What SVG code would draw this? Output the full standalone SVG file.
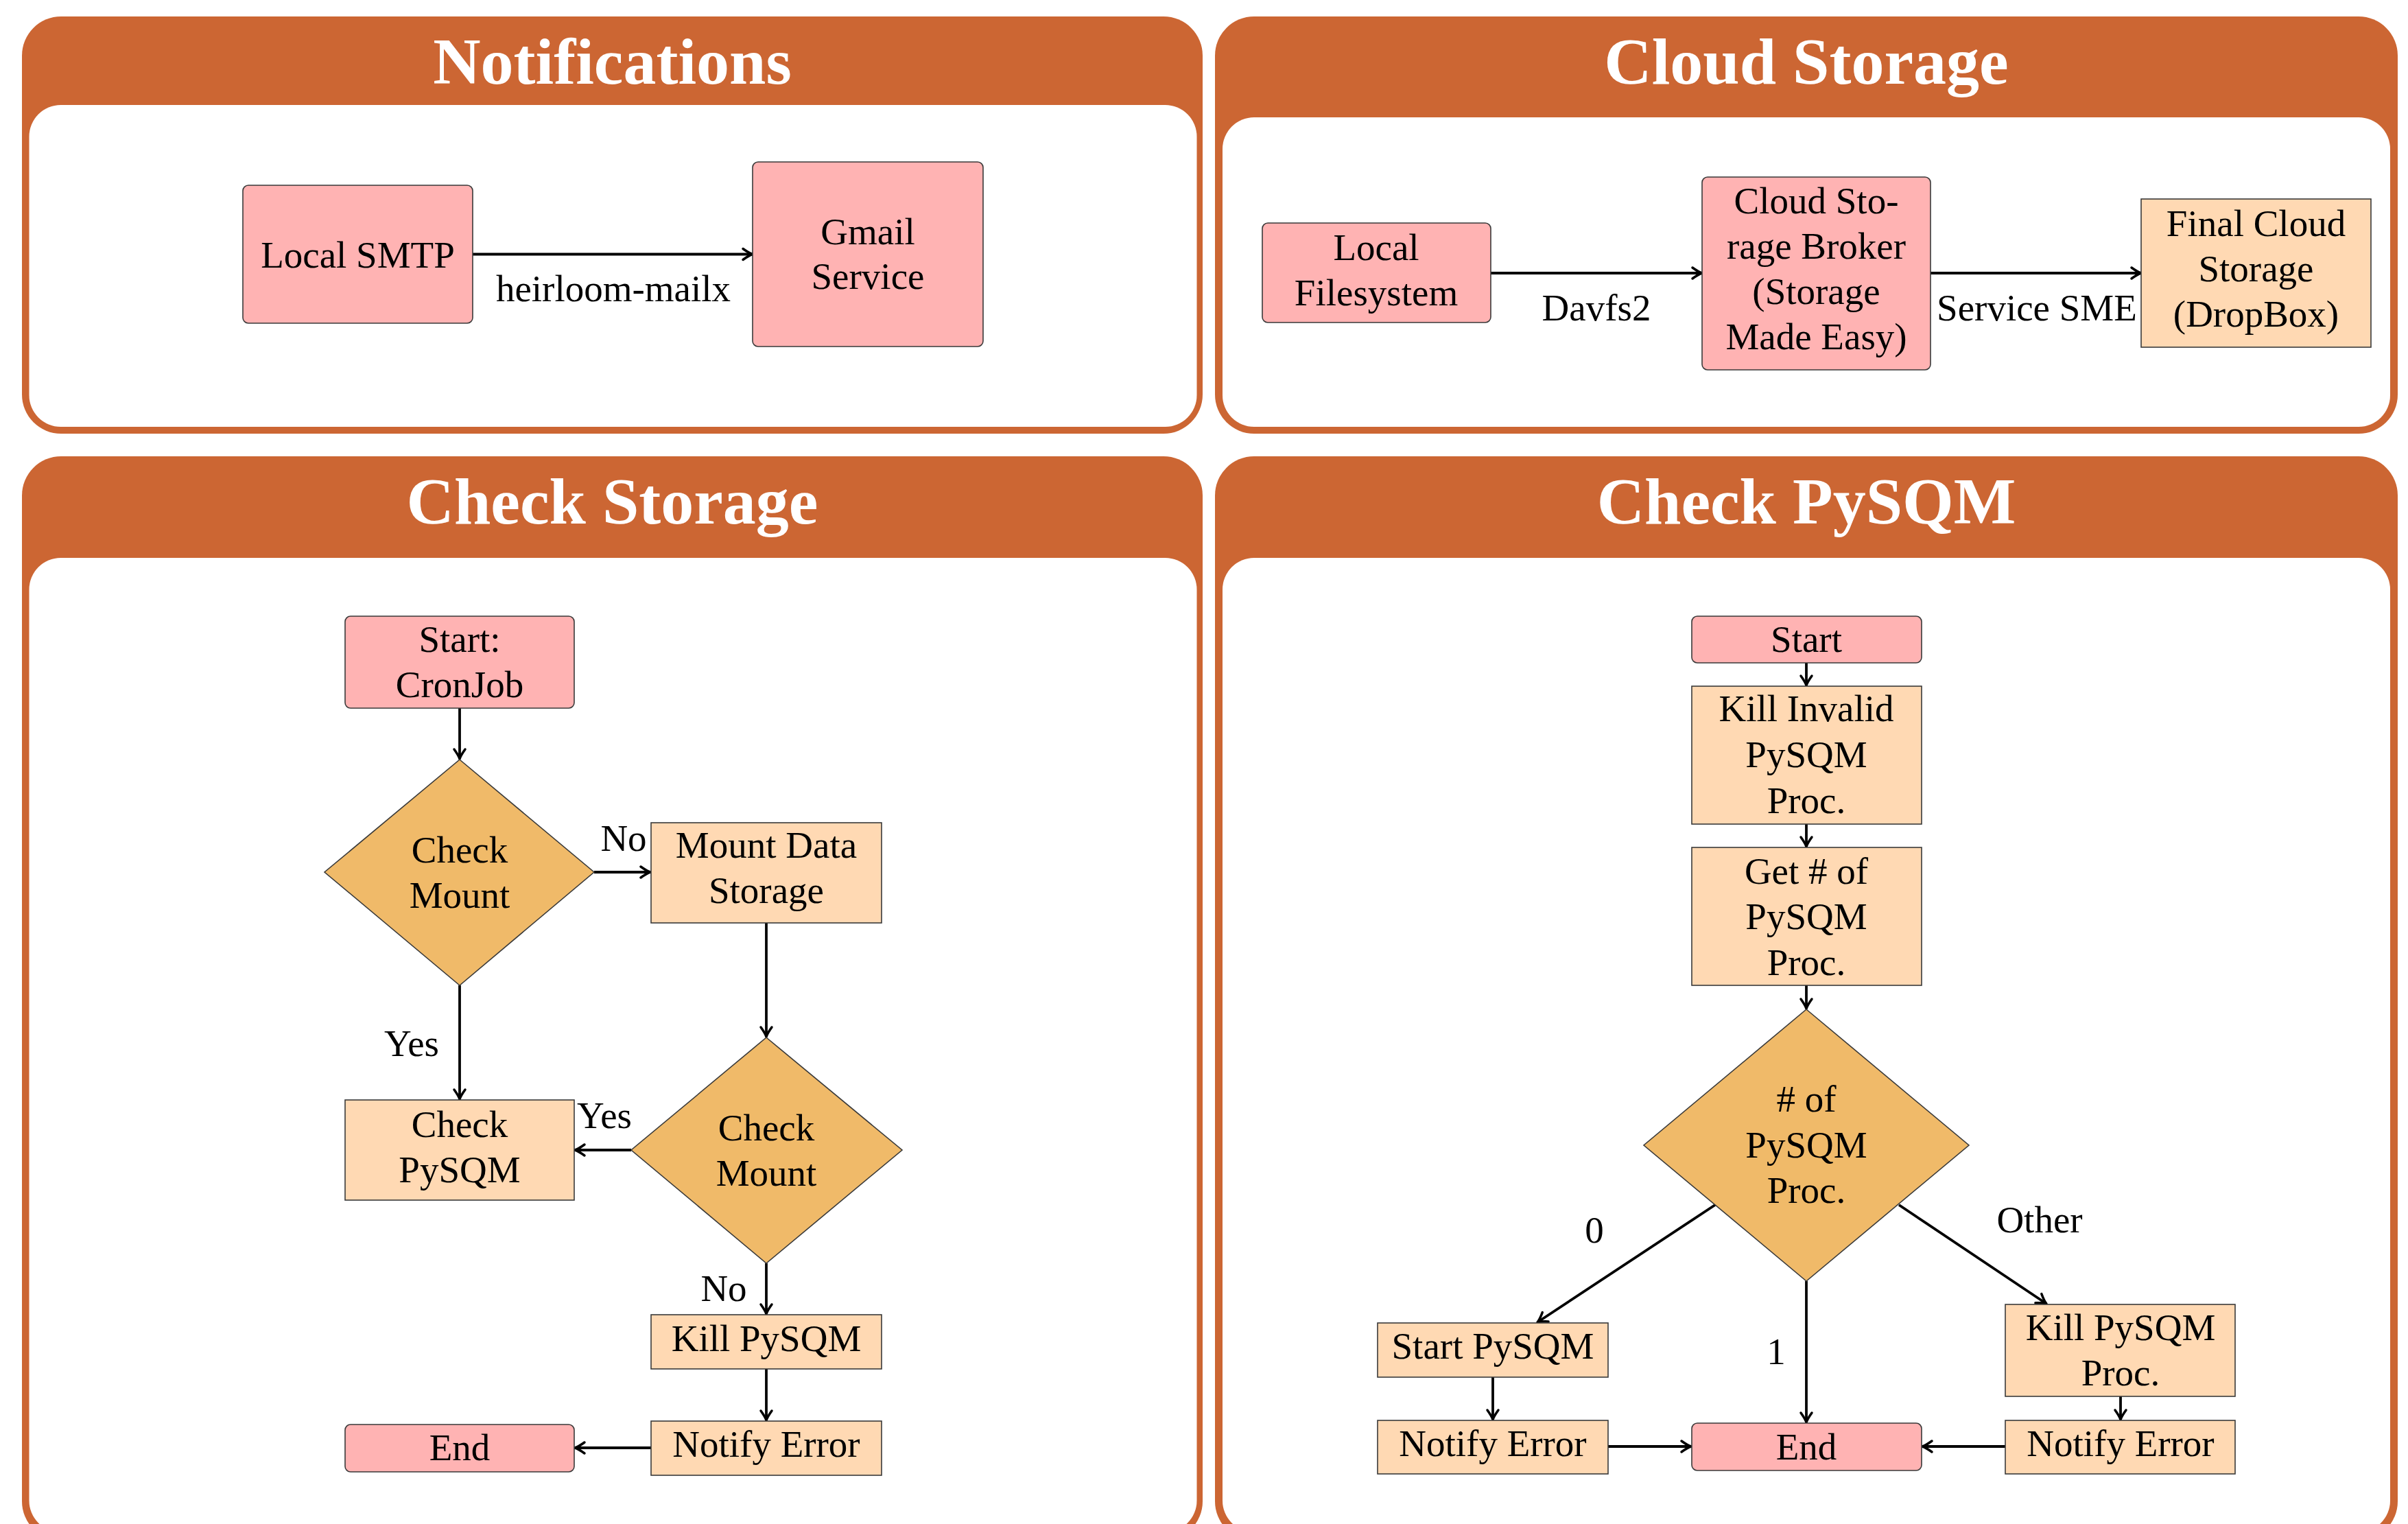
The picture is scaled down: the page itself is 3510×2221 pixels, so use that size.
<svg xmlns="http://www.w3.org/2000/svg" width="3510" height="2221" viewBox="0 0 3510 2221">
<style>
.panel{fill:#CC6633}
.inner{fill:#FFFFFF}
.title{font-family:"Liberation Serif",serif;font-weight:bold;font-size:96px;fill:#FFFFFF;text-anchor:middle}
.t{font-family:"Liberation Serif",serif;font-size:55px;fill:#000;text-anchor:middle}
.pink{fill:#FFB3B3;stroke:#3a3a3a;stroke-width:1.6}
.peach{fill:#FFD9B3;stroke:#3a3a3a;stroke-width:1.6}
.dia{fill:#F0BA69;stroke:#3a3a3a;stroke-width:1.6}
.c{stroke:#000;stroke-width:3.8;fill:none;marker-end:url(#arr)}
</style>
<defs>
<marker id="arr" markerUnits="userSpaceOnUse" markerWidth="24" markerHeight="24" viewBox="-18 -12 24 24" refX="0" refY="0" orient="auto" overflow="visible">
<path d="M-14,-8 Q-5,-1.5 0,0 Q-5,1.5 -14,8" fill="none" stroke="#000" stroke-width="3.5" stroke-linecap="round" stroke-linejoin="round"/>
</marker>
</defs>
<rect width="3510" height="2221" fill="#FFFFFF"/>

<g id="panel-notifications">
<rect class="panel" x="32" y="24" width="1721" height="608" rx="57"/>
<rect class="inner" x="42.5" y="153" width="1702" height="469" rx="46"/>
<text class="title" x="892.5" y="122">Notifications</text>
</g>
<g id="panel-cloud">
<rect class="panel" x="1771" y="24" width="1724" height="608" rx="57"/>
<rect class="inner" x="1782" y="171" width="1702" height="451" rx="46"/>
<text class="title" x="2633" y="122">Cloud Storage</text>
</g>
<g id="panel-checkstorage">
<rect class="panel" x="32" y="665" width="1721" height="1580" rx="57"/>
<rect class="inner" x="42.5" y="813" width="1702" height="1420" rx="46"/>
<text class="title" x="892.5" y="763">Check Storage</text>
</g>
<g id="panel-checkpysqm">
<rect class="panel" x="1771" y="665" width="1724" height="1580" rx="57"/>
<rect class="inner" x="1782" y="813" width="1702" height="1420" rx="46"/>
<text class="title" x="2633" y="763">Check PySQM</text>
</g>

<g id="connectors">
<line class="c" x1="689" y1="370.5" x2="1097" y2="370.5"/>
<text class="t" x="894" y="439">heirloom-mailx</text>
<line class="c" x1="2173" y1="398" x2="2481" y2="398"/>
<text class="t" x="2327" y="467">Davfs2</text>
<line class="c" x1="2814" y1="398" x2="3121" y2="398"/>
<text class="t" x="2969" y="467">Service SME</text>

<line class="c" x1="670" y1="1032" x2="670" y2="1106"/>
<line class="c" x1="866" y1="1271" x2="948" y2="1271"/>
<text class="t" x="909" y="1240">No</text>
<line class="c" x1="670" y1="1436" x2="670" y2="1602"/>
<text class="t" x="600" y="1539">Yes</text>
<line class="c" x1="1117" y1="1345" x2="1117" y2="1511"/>
<line class="c" x1="920" y1="1676" x2="838" y2="1676"/>
<text class="t" x="881" y="1644">Yes</text>
<line class="c" x1="1117" y1="1841" x2="1117" y2="1915"/>
<text class="t" x="1055" y="1896">No</text>
<line class="c" x1="1117" y1="1995" x2="1117" y2="2070"/>
<line class="c" x1="949" y1="2110" x2="838" y2="2110"/>

<line class="c" x1="2633" y1="966" x2="2633" y2="999"/>
<line class="c" x1="2633" y1="1201" x2="2633" y2="1234"/>
<line class="c" x1="2633" y1="1436" x2="2633" y2="1470"/>
<line class="c" x1="2500" y1="1756" x2="2241" y2="1927"/>
<text class="t" x="2324" y="1811">0</text>
<line class="c" x1="2633" y1="1867" x2="2633" y2="2073"/>
<text class="t" x="2589" y="1988">1</text>
<line class="c" x1="2768" y1="1756" x2="2983" y2="1900"/>
<text class="t" x="2973" y="1796">Other</text>
<line class="c" x1="2176" y1="2007" x2="2176" y2="2069"/>
<line class="c" x1="2344" y1="2108" x2="2465" y2="2108"/>
<line class="c" x1="3091" y1="2035" x2="3091" y2="2069"/>
<line class="c" x1="2923" y1="2108" x2="2802" y2="2108"/>
</g>

<g id="n-local-smtp">
<rect class="pink" x="354" y="270" width="335" height="201" rx="8"/>
<text class="t" x="521.5" y="390">Local SMTP</text>
</g>
<g id="n-gmail">
<rect class="pink" x="1097" y="236" width="336" height="269" rx="8"/>
<text class="t" x="1265" y="356">Gmail</text>
<text class="t" x="1265" y="421">Service</text>
</g>

<g id="c-local-fs">
<rect class="pink" x="1840" y="325" width="333" height="145" rx="8"/>
<text class="t" x="2006" y="379">Local</text>
<text class="t" x="2006" y="445">Filesystem</text>
</g>
<g id="c-broker">
<rect class="pink" x="2481" y="258" width="333" height="281" rx="8"/>
<text class="t" x="2647.5" y="311">Cloud Sto-</text>
<text class="t" x="2647.5" y="377">rage Broker</text>
<text class="t" x="2647.5" y="443">(Storage</text>
<text class="t" x="2647.5" y="509">Made Easy)</text>
</g>
<g id="c-final">
<rect class="peach" x="3121" y="290" width="335" height="216"/>
<text class="t" x="3288.5" y="344">Final Cloud</text>
<text class="t" x="3288.5" y="410">Storage</text>
<text class="t" x="3288.5" y="476">(DropBox)</text>
</g>

<g id="s-start">
<rect class="pink" x="503" y="898" width="334" height="134" rx="8"/>
<text class="t" x="670" y="950">Start:</text>
<text class="t" x="670" y="1016">CronJob</text>
</g>
<g id="s-check-mount-1">
<polygon class="dia" points="670,1107 866,1271 670,1436 473,1271"/>
<text class="t" x="670" y="1257">Check</text>
<text class="t" x="670" y="1323">Mount</text>
</g>
<g id="s-mount-data">
<rect class="peach" x="949" y="1199" width="336" height="146"/>
<text class="t" x="1117" y="1250">Mount Data</text>
<text class="t" x="1117" y="1316">Storage</text>
</g>
<g id="s-check-mount-2">
<polygon class="dia" points="1117,1512 1315,1676 1117,1841 920,1676"/>
<text class="t" x="1117" y="1662">Check</text>
<text class="t" x="1117" y="1728">Mount</text>
</g>
<g id="s-check-pysqm">
<rect class="peach" x="503" y="1603" width="334" height="146"/>
<text class="t" x="670" y="1657">Check</text>
<text class="t" x="670" y="1723">PySQM</text>
</g>
<g id="s-kill">
<rect class="peach" x="949" y="1916" width="336" height="79"/>
<text class="t" x="1117" y="1969">Kill PySQM</text>
</g>
<g id="s-notify">
<rect class="peach" x="949" y="2071" width="336" height="79"/>
<text class="t" x="1117" y="2123">Notify Error</text>
</g>
<g id="s-end">
<rect class="pink" x="503" y="2076" width="334" height="69" rx="8"/>
<text class="t" x="670" y="2128">End</text>
</g>

<g id="p-start">
<rect class="pink" x="2466" y="898" width="335" height="68" rx="8"/>
<text class="t" x="2633" y="950">Start</text>
</g>
<g id="p-kill-invalid">
<rect class="peach" x="2466" y="1000" width="335" height="201"/>
<text class="t" x="2633" y="1051">Kill Invalid</text>
<text class="t" x="2633" y="1118">PySQM</text>
<text class="t" x="2633" y="1185">Proc.</text>
</g>
<g id="p-get-count">
<rect class="peach" x="2466" y="1235" width="335" height="201"/>
<text class="t" x="2633" y="1288">Get # of</text>
<text class="t" x="2633" y="1354">PySQM</text>
<text class="t" x="2633" y="1421">Proc.</text>
</g>
<g id="p-count">
<polygon class="dia" points="2633,1471 2870,1669 2633,1867 2396,1669"/>
<text class="t" x="2633" y="1620"># of</text>
<text class="t" x="2633" y="1687">PySQM</text>
<text class="t" x="2633" y="1753">Proc.</text>
</g>
<g id="p-start-pysqm">
<rect class="peach" x="2008" y="1928" width="336" height="79"/>
<text class="t" x="2176" y="1980">Start PySQM</text>
</g>
<g id="p-notify-1">
<rect class="peach" x="2008" y="2070" width="336" height="78"/>
<text class="t" x="2176" y="2122">Notify Error</text>
</g>
<g id="p-end">
<rect class="pink" x="2466" y="2074" width="335" height="69" rx="8"/>
<text class="t" x="2633" y="2127">End</text>
</g>
<g id="p-kill">
<rect class="peach" x="2923" y="1901" width="335" height="134"/>
<text class="t" x="3091" y="1953">Kill PySQM</text>
<text class="t" x="3091" y="2019">Proc.</text>
</g>
<g id="p-notify-2">
<rect class="peach" x="2923" y="2070" width="335" height="78"/>
<text class="t" x="3091" y="2122">Notify Error</text>
</g>
</svg>
